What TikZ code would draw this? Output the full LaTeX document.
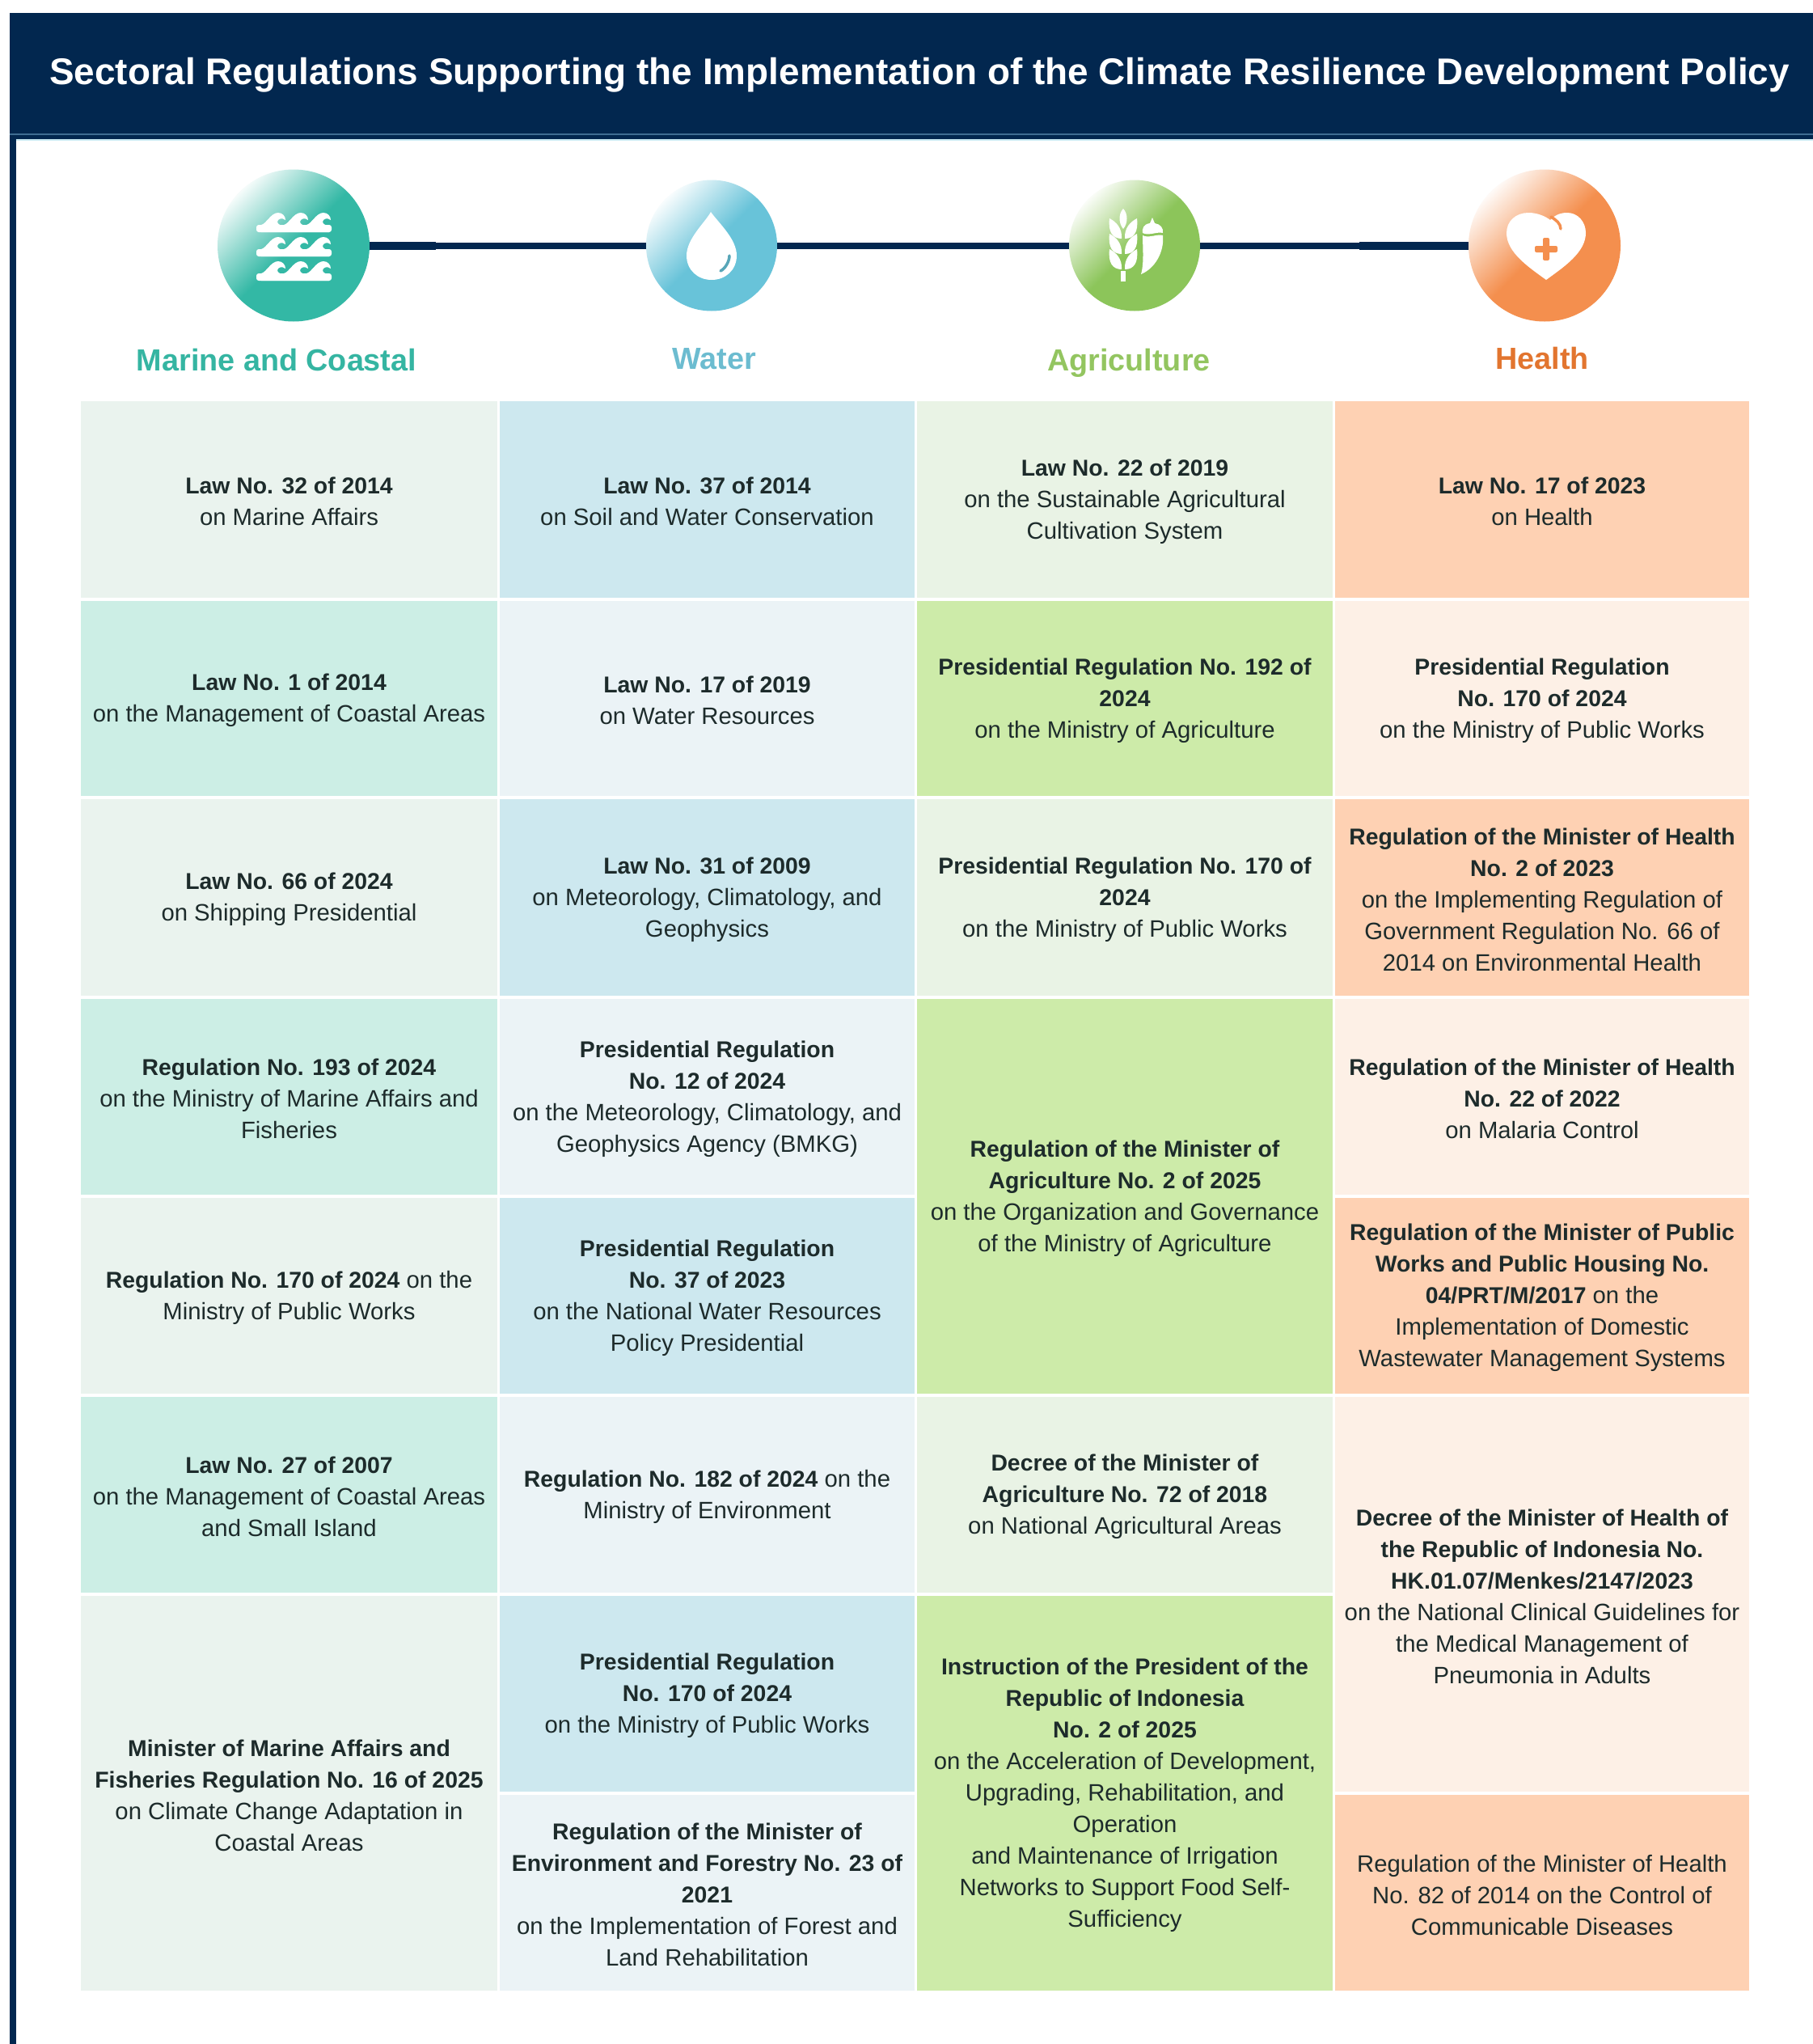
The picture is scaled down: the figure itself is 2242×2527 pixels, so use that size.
\documentclass[tikz,border=0pt]{standalone}
\usepackage{fontspec}
\setmainfont{Liberation Sans}[BoldFeatures={Scale=0.968}]
\definecolor{navy}{HTML}{02274F}
\definecolor{stripe}{HTML}{3F6D92}
\definecolor{mL}{HTML}{EAF3EE}\definecolor{mD}{HTML}{CCEEE5}
\definecolor{wL}{HTML}{EBF3F6}\definecolor{wD}{HTML}{CDE8EF}
\definecolor{aL}{HTML}{E9F3E5}\definecolor{aD}{HTML}{CDEBA9}
\definecolor{hL}{HTML}{FDF0E6}\definecolor{hD}{HTML}{FED1B3}
\definecolor{mC}{HTML}{33B8A5}\definecolor{wC}{HTML}{68C3D9}
\definecolor{aC}{HTML}{8CC55A}\definecolor{hC}{HTML}{F48F4E}
\definecolor{mT}{HTML}{35B5A2}\definecolor{wT}{HTML}{6CBCD0}
\definecolor{aT}{HTML}{93C560}\definecolor{hT}{HTML}{E2752F}
\definecolor{ink}{HTML}{1D2B2B}
\tikzset{
  cellbox/.style={inner sep=0pt,outer sep=0pt},
  celltext/.style={inner sep=0pt,outer sep=0pt,align=center,text=ink,
    font=\fontsize{29.3}{39}\selectfont},
  roundel/.style={circle,inner sep=0pt,outer sep=0pt,minimum size=#1},
  glow/.style={top color=#1!5,bottom color=#1,middle color=#1,shading angle=45},
  sector/.style={font=\fontsize{39}{44}\selectfont\bfseries,inner sep=0pt,anchor=base},
  linkthin/.style={navy,line width=8pt},
  linkthick/.style={navy,line width=10pt},
}
\newcommand{\regcell}[7]{%
  \pgfmathsetmacro{\cw}{#5-#3}\pgfmathsetmacro{\ch}{#6-#4}%
  \pgfmathsetmacro{\cx}{(#3+#5)/2}\pgfmathsetmacro{\cy}{(#4+#6)/2}%
  \pgfmathsetmacro{\ty}{\cy+2.5}%
  \node[cellbox,fill=#2,minimum width=\cw pt,minimum height=\ch pt] (#1) at (\cx,\cy) {};
  \node[celltext] (#1t) at (\cx,\ty) {#7};}
\newcommand{\crest}[1]{%
  \fill[white,shift={(#1,0)}] (6,15) .. controls (12,14) and (18,0) .. (27,0)
   .. controls (32,0) and (36,4) .. (36,9)
   .. controls (32,6) and (27,7) .. (26,11)
   .. controls (26,14) and (30,16) .. (34,16) -- (34,24) -- (6,24) -- cycle;}
\newcommand{\waverow}[2]{%
  \begin{scope}[shift={(#1,#2)}]
  \crest{0}\crest{28}\crest{56}
  \fill[white,rounded corners=3pt] (0,15) -- (93,15) -- (93,24) -- (0,24) -- cycle;
  \end{scope}}
\begin{document}
\begin{tikzpicture}[x=1pt,y=-1pt]
\useasboundingbox (0,0) rectangle (2242,2527);
\fill[white] (0,0) rectangle (2242,2527);
% frame
\fill[navy] (12,16) rectangle (2242,172);
\fill[stripe] (12,164.5) rectangle (2242,166.5);
\fill[wC!35] (20,172) rectangle (2242,173.5);
\fill[navy] (12,172) rectangle (20,2527);
\node[inner sep=0pt,text=white,font=\fontsize{47.4}{56}\selectfont\bfseries] (title) at (1137,93)
  {Sectoral Regulations Supporting the Implementation of the Climate Resilience Development Policy};
% roundels
\coordinate (tl) at (539,303.5);
\coordinate (tr) at (1681,303.5);
\node[roundel=188pt,glow=mC] (marine) at (363,303.5) {};
\node[roundel=162pt,glow=wC] (water) at (880,303.5) {};
\node[roundel=162pt,glow=aC] (agri) at (1403,303.5) {};
\node[roundel=188pt,glow=hC] (health) at (1910,303.5) {};
\draw[linkthin] (marine.east) -- (water.west);
\draw[linkthin] (water.east) -- (agri.west);
\draw[linkthin] (agri.east) -- (health.west);
\draw[linkthick] (marine.east) -- (tl);
\draw[linkthick] (tr) -- (health.west);
% waves icon
\waverow{317}{263}\waverow{317}{293}\waverow{317}{323}
% drop icon
\fill[white] (879,262) .. controls (872,275) and (849,295) .. (849,316)
  .. controls (849,334) and (863,346) .. (880,346)
  .. controls (897,346) and (911,334) .. (911,316)
  .. controls (911,295) and (888,275) .. (879,262) -- cycle;
\draw[wC!85!black,line width=3.5pt,line cap=round] (902,316) .. controls (902,323) and (897,332) .. (891,335);
% wheat icon
\fill[white] (1389,258) .. controls (1383,264) and (1383,276) .. (1389,283)
  .. controls (1395,276) and (1395,264) .. (1389,258) -- cycle;
\foreach \dy in {0,19,38}{
  \fill[white,shift={(0,\dy)}] (1387,295) .. controls (1376,295) and (1370,287) .. (1372,270)
    .. controls (1380,274) and (1388,282) .. (1387,295) -- cycle;
  \fill[white,shift={(0,\dy)}] (1391,295) .. controls (1402,295) and (1408,287) .. (1406,270)
    .. controls (1398,274) and (1390,282) .. (1391,295) -- cycle;
}
\fill[white] (1386,335) rectangle (1392,348);
% chili icon
\fill[white] (1425,269) -- (1422,276) .. controls (1414,277) and (1412,283) .. (1413,288)
  .. controls (1420,292) and (1431,286) .. (1438,288)
  .. controls (1439,282) and (1435,277) .. (1428,276) -- cycle;
\fill[white] (1413,291) .. controls (1420,295) and (1431,289) .. (1438,291)
  .. controls (1440,312) and (1428,332) .. (1411,339)
  .. controls (1415,325) and (1413,305) .. (1413,291) -- cycle;
% heart icon
\fill[white] (1912,346) .. controls (1890,330) and (1863,312) .. (1863,288)
  .. controls (1863,273) and (1875,263) .. (1890,263)
  .. controls (1902,263) and (1912,268) .. (1917,272)
  .. controls (1925,264) and (1932,263) .. (1938,263)
  .. controls (1951,263) and (1961,274) .. (1961,288)
  .. controls (1961,312) and (1934,330) .. (1912,346) -- cycle;
\draw[hC,line width=3.5pt,line cap=round] (1918,268) .. controls (1924,272) and (1930,276) .. (1930,283);
\fill[hC,rounded corners=2pt] (1908,294) rectangle (1916,322);
\fill[hC,rounded corners=2pt] (1898,304) rectangle (1926,312);
% sector titles
\node[sector,text=mT] (lblm) at (342,458) {Marine and Coastal};
\node[sector,text=wT] (lblw) at (883,456) {Water};
\node[sector,text=aT] (lbla) at (1396,458) {Agriculture};
\node[sector,text=hT] (lblh) at (1907,456) {Health};
% marine column
\regcell{m1}{mL}{100}{496}{615}{739}{\textbf{Law No. 32 of 2014}\\on Marine Affairs}
\regcell{m2}{mD}{100}{743}{615}{984}{\textbf{Law No. 1 of 2014}\\on the Management of Coastal Areas}
\regcell{m3}{mL}{100}{988}{615}{1231}{\textbf{Law No. 66 of 2024}\\on Shipping Presidential}
\regcell{m4}{mD}{100}{1235}{615}{1477}{\textbf{Regulation No. 193 of 2024}\\on the Ministry of Marine Affairs and\\Fisheries}
\regcell{m5}{mL}{100}{1481}{615}{1723}{\textbf{Regulation No. 170 of 2024} on the\\Ministry of Public Works}
\regcell{m6}{mD}{100}{1727}{615}{1969}{\textbf{Law No. 27 of 2007}\\on the Management of Coastal Areas\\and Small Island}
\regcell{m7}{mL}{100}{1973}{615}{2461}{\textbf{Minister of Marine Affairs and}\\\textbf{Fisheries Regulation No. 16 of 2025}\\on Climate Change Adaptation in\\Coastal Areas}
% water column
\regcell{w1}{wD}{618}{496}{1131}{739}{\textbf{Law No. 37 of 2014}\\on Soil and Water Conservation}
\regcell{w2}{wL}{618}{743}{1131}{984}{\textbf{Law No. 17 of 2019}\\on Water Resources}
\regcell{w3}{wD}{618}{988}{1131}{1231}{\textbf{Law No. 31 of 2009}\\on Meteorology, Climatology, and\\Geophysics}
\regcell{w4}{wL}{618}{1235}{1131}{1477}{\textbf{Presidential Regulation}\\\textbf{No. 12 of 2024}\\on the Meteorology, Climatology, and\\Geophysics Agency (BMKG)}
\regcell{w5}{wD}{618}{1481}{1131}{1723}{\textbf{Presidential Regulation}\\\textbf{No. 37 of 2023}\\on the National Water Resources\\Policy Presidential}
\regcell{w6}{wL}{618}{1727}{1131}{1969}{\textbf{Regulation No. 182 of 2024} on the\\Ministry of Environment}
\regcell{w7}{wD}{618}{1973}{1131}{2215}{\textbf{Presidential Regulation}\\\textbf{No. 170 of 2024}\\on the Ministry of Public Works}
\regcell{w8}{wL}{618}{2219}{1131}{2461}{\textbf{Regulation of the Minister of}\\\textbf{Environment and Forestry No. 23 of}\\\textbf{2021}\\on the Implementation of Forest and\\Land Rehabilitation}
% agriculture column
\regcell{a1}{aL}{1134}{496}{1648}{739}{\textbf{Law No. 22 of 2019}\\on the Sustainable Agricultural\\Cultivation System}
\regcell{a2}{aD}{1134}{743}{1648}{984}{\textbf{Presidential Regulation No. 192 of}\\\textbf{2024}\\on the Ministry of Agriculture}
\regcell{a3}{aL}{1134}{988}{1648}{1231}{\textbf{Presidential Regulation No. 170 of}\\\textbf{2024}\\on the Ministry of Public Works}
\regcell{a4}{aD}{1134}{1235}{1648}{1723}{\textbf{Regulation of the Minister of}\\\textbf{Agriculture No. 2 of 2025}\\on the Organization and Governance\\of the Ministry of Agriculture}
\regcell{a5}{aL}{1134}{1727}{1648}{1969}{\textbf{Decree of the Minister of}\\\textbf{Agriculture No. 72 of 2018}\\on National Agricultural Areas}
\regcell{a6}{aD}{1134}{1973}{1648}{2461}{\textbf{Instruction of the President of the}\\\textbf{Republic of Indonesia}\\\textbf{No. 2 of 2025}\\on the Acceleration of Development,\\Upgrading, Rehabilitation, and\\Operation\\and Maintenance of Irrigation\\Networks to Support Food Self-\\Sufficiency}
% health column
\regcell{h1}{hD}{1651}{496}{2163}{739}{\textbf{Law No. 17 of 2023}\\on Health}
\regcell{h2}{hL}{1651}{743}{2163}{984}{\textbf{Presidential Regulation}\\\textbf{No. 170 of 2024}\\on the Ministry of Public Works}
\regcell{h3}{hD}{1651}{988}{2163}{1231}{\textbf{Regulation of the Minister of Health}\\\textbf{No. 2 of 2023}\\on the Implementing Regulation of\\Government Regulation No. 66 of\\2014 on Environmental Health}
\regcell{h4}{hL}{1651}{1235}{2163}{1477}{\textbf{Regulation of the Minister of Health}\\\textbf{No. 22 of 2022}\\on Malaria Control}
\regcell{h5}{hD}{1651}{1481}{2163}{1723}{\textbf{Regulation of the Minister of Public}\\\textbf{Works and Public Housing No.}\\\textbf{04/PRT/M/2017} on the\\Implementation of Domestic\\Wastewater Management Systems}
\regcell{h6}{hL}{1651}{1727}{2163}{2215}{\textbf{Decree of the Minister of Health of}\\\textbf{the Republic of Indonesia No.}\\\textbf{HK.01.07/Menkes/2147/2023}\\on the National Clinical Guidelines for\\the Medical Management of\\Pneumonia in Adults}
\regcell{h7}{hD}{1651}{2219}{2163}{2461}{Regulation of the Minister of Health\\No. 82 of 2014 on the Control of\\Communicable Diseases}
\end{tikzpicture}
\end{document}
